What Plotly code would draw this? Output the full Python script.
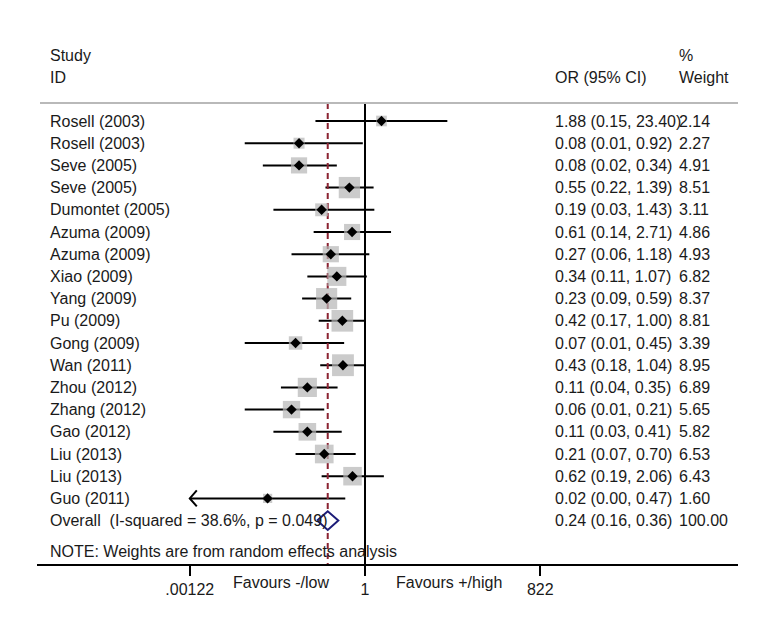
import math
import plotly.graph_objects as go

# ---------------- data ----------------
studies = ["Rosell (2003)", "Rosell (2003)", "Seve (2005)", "Seve (2005)", "Dumontet (2005)",
           "Azuma (2009)", "Azuma (2009)", "Xiao (2009)", "Yang (2009)", "Pu (2009)",
           "Gong (2009)", "Wan (2011)", "Zhou (2012)", "Zhang (2012)", "Gao (2012)",
           "Liu (2013)", "Liu (2013)", "Guo (2011)"]
or_est = [1.88, 0.08, 0.08, 0.55, 0.19, 0.61, 0.27, 0.34, 0.23, 0.42,
          0.07, 0.43, 0.11, 0.06, 0.11, 0.21, 0.62, 0.024]
ci_low = [0.15, 0.01, 0.02, 0.22, 0.03, 0.14, 0.06, 0.11, 0.09, 0.17,
          0.01, 0.18, 0.04, 0.01, 0.03, 0.07, 0.19, 0.001]
ci_high = [23.40, 0.92, 0.34, 1.39, 1.43, 2.71, 1.18, 1.07, 0.59, 1.00,
           0.45, 1.04, 0.35, 0.21, 0.41, 0.70, 2.06, 0.47]
weights = [2.14, 2.27, 4.91, 8.51, 3.11, 4.86, 4.93, 6.82, 8.37, 8.81,
           3.39, 8.95, 6.89, 5.65, 5.82, 6.53, 6.43, 1.60]
overall_est = 0.24
overall_low = 0.16
overall_high = 0.36
overall_weight = 100.00
overall_label = "Overall  (I-squared = 38.6%, p = 0.049)"
note_text = "NOTE: Weights are from random effects analysis"
tick_vals = [0.00122, 1, 822]
tick_text = [".00122", "1", "822"]
favours_left = "Favours -/low"
favours_right = "Favours +/high"

# ---------------- layout geometry ----------------
OFF = 8                      # page body margin
W, H = 768 - OFF, 637 - OFF  # figure size
def fx(p):                   # reference x pixel -> figure pixel
    return p - OFF

x_one_px = fx(365.0)
x_min_px, x_max_px = fx(190.5), fx(541.0)
ppd = (x_max_px - x_min_px) / (math.log10(tick_vals[-1]) - math.log10(tick_vals[0]))
xr = [-x_one_px / ppd, (W - x_one_px) / ppd]

row0_px = 121.0 - OFF
row_h = 22.2
axis_px = 565.0 - OFF
yr = [(axis_px - row0_px) / row_h, -row0_px / row_h]   # reversed
def ypx(p):                  # reference y pixel -> row units
    return (p - OFF - row0_px) / row_h
def ypaper(p):               # reference y pixel -> paper (plot area = top..axis)
    return 1 - (p - OFF) / axis_px

FONT = "Liberation Sans, Arial, sans-serif"
TXT = "#1a1a1a"
n = len(studies)
rows = list(range(n))
overall_row = n
header_r = ypx(103)
bottom_r = yr[0]
axis_min = tick_vals[0]

fig = go.Figure()

# CI lines
lx, ly = [], []
for i in rows:
    lo = max(ci_low[i], axis_min)
    lx += [lo, ci_high[i], None]
    ly += [i, i, None]
fig.add_trace(go.Scatter(x=lx, y=ly, mode="lines", line=dict(color="black", width=2),
                         hoverinfo="skip", showlegend=False))

# arrows for truncated CIs
ax_, ay_ = [], []
f = 10 ** (7 / ppd)
for i in rows:
    if ci_low[i] < axis_min:
        ax_ += [axis_min * f, axis_min, axis_min * f, None]
        ay_ += [i - 0.36, i, i + 0.36, None]
fig.add_trace(go.Scatter(x=ax_, y=ay_, mode="lines", line=dict(color="black", width=2),
                         hoverinfo="skip", showlegend=False))

# null line and overall dashed line
fig.add_trace(go.Scatter(x=[1, 1], y=[header_r, bottom_r], mode="lines",
                         line=dict(color="black", width=2), hoverinfo="skip", showlegend=False))
fig.add_trace(go.Scatter(x=[overall_est, overall_est], y=[header_r, bottom_r], mode="lines",
                         line=dict(color="#8b2332", width=2, dash="6px,4px"),
                         hoverinfo="skip", showlegend=False))

# weight squares
fig.add_trace(go.Scatter(x=or_est, y=rows, mode="markers",
                         marker=dict(symbol="square", color="#b5b5b5",
                                     size=[7.3 * math.sqrt(w) for w in weights], line=dict(width=0)),
                         hoverinfo="skip", showlegend=False))
# point estimates
fig.add_trace(go.Scatter(x=or_est, y=rows, mode="markers",
                         marker=dict(symbol="diamond", color="black", size=8, line=dict(width=0)),
                         hoverinfo="skip", showlegend=False))

# overall diamond
fig.add_trace(go.Scatter(x=[overall_low, overall_est, overall_high, overall_est, overall_low],
                         y=[overall_row, overall_row - 0.42, overall_row, overall_row + 0.42, overall_row],
                         mode="lines", fill="toself", fillcolor="white",
                         line=dict(color="#1c1c78", width=2), hoverinfo="skip", showlegend=False))

# ---------------- text ----------------
ann = []
def txt(xpx, yp, s, anchor="left", paper=False):
    ann.append(dict(x=fx(xpx) / W, xref="paper",
                    y=ypaper(yp) if paper else ypx(yp) if isinstance(yp, float) else yp,
                    yref="paper" if paper else "y", text=s, showarrow=False,
                    xanchor=anchor, yanchor="middle",
                    font=dict(family=FONT, size=16, color=TXT)))

txt(48, 55.0, "Study")
txt(48, 77.0, "ID")
txt(553, 77.0, "OR (95% CI)")
txt(677, 55.0, "%")
txt(677, 77.0, "Weight")
for i in rows:
    txt(48, i, studies[i])
    txt(553, i, f"{or_est[i]:.2f} ({ci_low[i]:.2f}, {ci_high[i]:.2f})")
    txt(677, i, f"{weights[i]:.2f}")
txt(48, overall_row, overall_label)
txt(553, overall_row, f"{overall_est:.2f} ({overall_low:.2f}, {overall_high:.2f})")
txt(677, overall_row, f"{overall_weight:.2f}")
txt(48, 551.0, note_text)
txt(281, 582.0, favours_left, anchor="center", paper=True)
txt(449, 582.0, favours_right, anchor="center", paper=True)

shapes = [
    dict(type="line", xref="paper", yref="y", x0=fx(40) / W, x1=fx(738) / W, y0=header_r, y1=header_r,
         line=dict(color="#b9b9b9", width=2)),
    dict(type="line", xref="paper", yref="paper", x0=fx(37) / W, x1=fx(738) / W, y0=0, y1=0,
         line=dict(color="black", width=2)),
]

fig.update_layout(
    width=W, height=H,
    margin=dict(l=0, r=0, t=0, b=H - axis_px, pad=0),
    paper_bgcolor="white", plot_bgcolor="rgba(0,0,0,0)",
    showlegend=False,
    xaxis=dict(type="log", range=xr, showgrid=False, zeroline=False, showline=False,
               tickvals=tick_vals, ticktext=tick_text, ticks="outside", ticklen=10,
               tickwidth=2, tickcolor="black",
               tickfont=dict(family=FONT, size=16, color=TXT), fixedrange=True),
    yaxis=dict(range=yr, visible=False, fixedrange=True),
    annotations=ann, shapes=shapes,
)

fig.write_html("out.html")
